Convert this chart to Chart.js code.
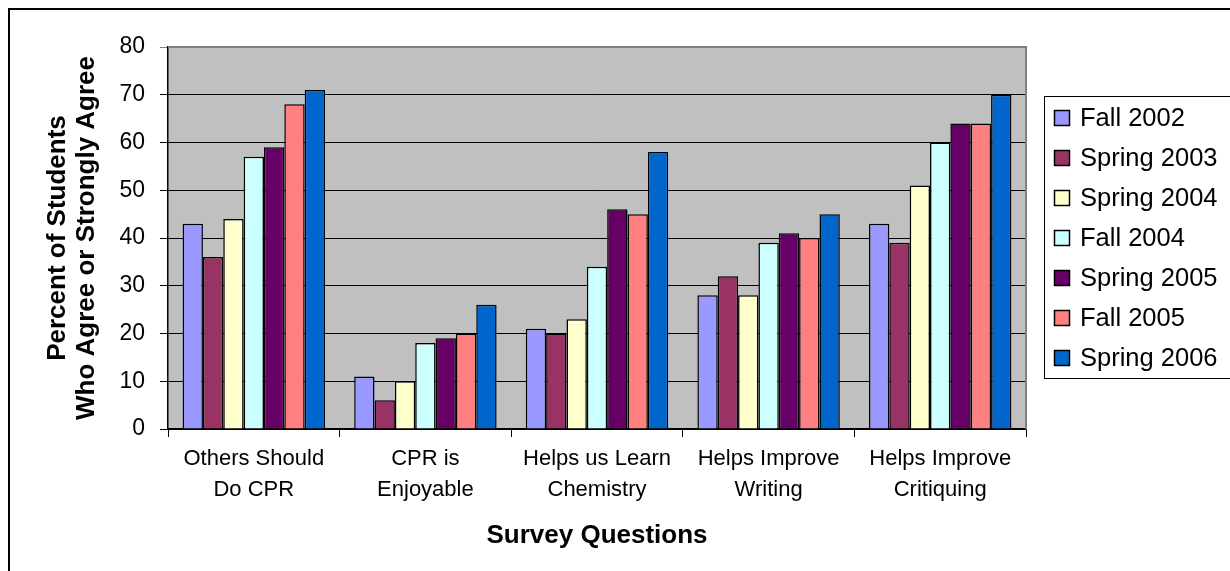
<!DOCTYPE html>
<html>
<head>
<meta charset="utf-8">
<script src="https://cdn.jsdelivr.net/npm/chart.js@4.4.1/dist/chart.umd.min.js"></script>
<style>
  html, body { margin: 0; padding: 0; background: #ffffff; }
  #wrap { width: 1230px; height: 571px; position: relative; }
</style>
</head>
<body>
<div id="wrap"><canvas id="c" width="1230" height="571"></canvas></div>
<script>
const categories = [
  ["Others Should", "Do CPR"],
  ["CPR is", "Enjoyable"],
  ["Helps us Learn", "Chemistry"],
  ["Helps Improve", "Writing"],
  ["Helps Improve", "Critiquing"]
];
const seriesNames = ["Fall 2002", "Spring 2003", "Spring 2004", "Fall 2004", "Spring 2005", "Fall 2005", "Spring 2006"];
const fall2002   = [43, 11, 21, 28, 43];
const spring2003 = [36, 6, 20, 32, 39];
const spring2004 = [44, 10, 23, 28, 51];
const fall2004   = [57, 18, 34, 39, 60];
const spring2005 = [59, 19, 46, 41, 64];
const fall2005   = [68, 20, 45, 40, 64];
const spring2006 = [71, 26, 58, 45, 70];
const seriesColors = ["#9999FF", "#993366", "#FFFFCC", "#CCFFFF", "#660066", "#FF8080", "#0066CC"];
const yTicks = [0, 10, 20, 30, 40, 50, 60, 70, 80];
const yTitle = ["Percent of Students", "Who Agree or Strongly Agree"];
const xTitle = "Survey Questions";

const FONT = "'Liberation Sans', Arial, Helvetica, sans-serif";
const seriesValues = [fall2002, spring2003, spring2004, fall2004, spring2005, fall2005, spring2006];

const datasets = seriesNames.map((name, i) => ({
  label: name,
  data: seriesValues[i],
  backgroundColor: seriesColors[i],
  borderColor: "#000000",
  borderWidth: 1.5,
  categoryPercentage: 0.83,
  barPercentage: 1.0
}));

const framePlugin = {
  id: "framePlugin",
  beforeDraw(chart) {
    const { ctx, chartArea: a } = chart;
    ctx.save();
    ctx.fillStyle = "#ffffff";
    ctx.fillRect(0, 0, chart.width, chart.height);
    ctx.fillStyle = "#C0C0C0";
    ctx.fillRect(a.left, a.top, a.right - a.left, a.bottom - a.top);
    ctx.restore();
  },
  afterDraw(chart) {
    const { ctx, chartArea: a } = chart;
    ctx.save();
    // plot area border (top / right) in gray
    ctx.strokeStyle = "#808080";
    ctx.lineWidth = 2;
    ctx.beginPath();
    ctx.moveTo(a.left, a.top);
    ctx.lineTo(a.right, a.top);
    ctx.lineTo(a.right, a.bottom);
    ctx.stroke();
    // outer chart frame (cropped)
    ctx.strokeStyle = "#000000";
    ctx.lineWidth = 2;
    ctx.strokeRect(9, 9, 1400, 700);
    // legend
    const lx = 1044.5, ly = 96.5, lw = 186, lh = 282;
    ctx.fillStyle = "#ffffff";
    ctx.fillRect(lx, ly, lw, lh);
    ctx.strokeStyle = "#000000";
    ctx.lineWidth = 1;
    ctx.strokeRect(lx, ly, lw, lh);
    ctx.font = "25.5px " + FONT;
    ctx.textBaseline = "middle";
    ctx.textAlign = "left";
    chart.data.datasets.forEach((ds, i) => {
      const cy = 118 + 40 * i;
      ctx.fillStyle = ds.backgroundColor;
      ctx.fillRect(1054.5, cy - 7.5, 15, 15);
      ctx.strokeStyle = "#000000";
      ctx.lineWidth = 1.5;
      ctx.strokeRect(1054.5, cy - 7.5, 15, 15);
      ctx.fillStyle = "#000000";
      ctx.fillText(ds.label, 1080, cy + 1);
    });
    ctx.restore();
  }
};

new Chart(document.getElementById("c"), {
  type: "bar",
  data: { labels: categories, datasets: datasets },
  plugins: [framePlugin],
  options: {
    responsive: false,
    animation: false,
    layout: { padding: { left: 0, top: 47, right: 204, bottom: 0 } },
    plugins: {
      legend: { display: false },
      tooltip: { enabled: false },
      title: { display: false }
    },
    scales: {
      x: {
        afterFit(scale) { scale.height = 142; },
        grid: {
          display: true,
          drawOnChartArea: false,
          drawTicks: true,
          tickLength: 8,
          color: "#000000",
          lineWidth: 1,
          offset: true
        },
        border: { display: true, color: "#000000", width: 1.5 },
        ticks: {
          color: "#000000",
          font: { family: FONT, size: 22, lineHeight: 1.41 },
          padding: 6,
          maxRotation: 0,
          autoSkip: false
        },
        title: {
          display: true,
          text: xTitle,
          color: "#000000",
          font: { family: FONT, size: 26, weight: "bold", lineHeight: 1.2 },
          padding: { top: 0, bottom: 20 }
        }
      },
      y: {
        min: 0,
        max: 80,
        afterFit(scale) { scale.width = 168; },
        afterBuildTicks(scale) { scale.ticks = yTicks.map(v => ({ value: v })); },
        grid: {
          display: true,
          drawTicks: true,
          tickLength: 8,
          color: (ctx) => (ctx.tick && ctx.tick.value === 80 ? "#808080" : "#000000"),
          lineWidth: 1
        },
        border: { display: true, color: "#000000", width: 1.5 },
        ticks: {
          color: "#000000",
          font: { family: FONT, size: 23 },
          padding: 15
        },
        title: {
          display: true,
          text: yTitle,
          color: "#000000",
          font: { family: FONT, size: 26, weight: "bold", lineHeight: 1.115 },
          padding: { top: 43, bottom: 0 }
        }
      }
    }
  }
});
</script>
</body>
</html>
